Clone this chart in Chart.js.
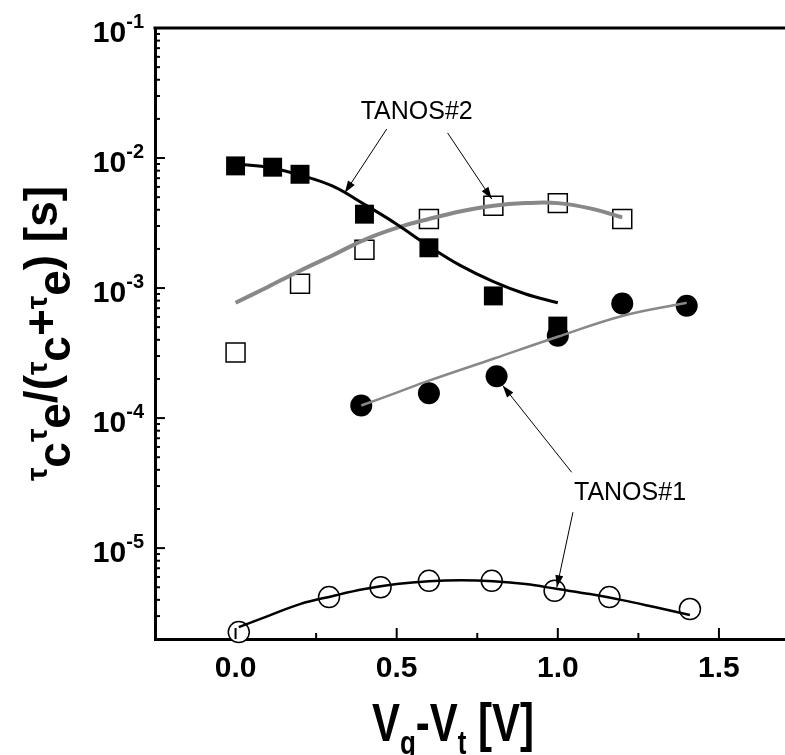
<!DOCTYPE html>
<html>
<head>
<meta charset="utf-8">
<script src="https://cdn.jsdelivr.net/npm/chart.js@4"></script>
<style>
  body { margin: 0; background: #fff; }
  canvas { display: block; }
</style>
</head>
<body>
<canvas id="chart" width="785" height="755"></canvas>
<script>
// measured points
const filledSqX = [0.0, 0.115, 0.20, 0.40, 0.60, 0.80, 1.00];
const filledSqY = [0.0087, 0.0085, 0.0075, 0.0037, 0.00204, 0.00087, 0.00051];
const openSqX = [0.0, 0.20, 0.40, 0.60, 0.80, 1.00, 1.20];
const openSqY = [0.00032, 0.00108, 0.00197, 0.0034, 0.0043, 0.0045, 0.0034];
const filledCircX = [0.39, 0.60, 0.81, 1.0, 1.2, 1.4];
const filledCircY = [1.25e-4, 1.55e-4, 2.1e-4, 4.3e-4, 7.6e-4, 7.3e-4];
const openCircX = [0.01, 0.29, 0.45, 0.60, 0.795, 0.99, 1.16, 1.41];
const openCircY = [2.26e-6, 4.2e-6, 5.0e-6, 5.6e-6, 5.6e-6, 4.7e-6, 4.2e-6, 3.4e-6];

// fit curves
const fitFilledSqX = [0.0, 0.1, 0.2, 0.3, 0.4, 0.5, 0.6, 0.7, 0.8, 0.9, 1.0];
const fitFilledSqY = [0.0090, 0.0085, 0.0074, 0.0061, 0.0044, 0.0031, 0.0021, 0.00148, 0.00112, 0.00090, 0.00077];
const fitOpenSqX = [0.0, 0.1, 0.2, 0.3, 0.4, 0.5, 0.6, 0.7, 0.8, 0.9, 1.0, 1.1, 1.2];
const fitOpenSqY = [0.00077, 0.00102, 0.00136, 0.00178, 0.00235, 0.0029, 0.0034, 0.0039, 0.0043, 0.0045, 0.0045, 0.0041, 0.0035];
const fitFilledCircX = [0.39, 0.5, 0.6, 0.8, 1.0, 1.2, 1.4];
const fitFilledCircY = [1.25e-4, 1.57e-4, 1.94e-4, 2.86e-4, 4.22e-4, 6.1e-4, 7.7e-4];
const fitOpenCircX = [0.01, 0.1, 0.2, 0.3, 0.4, 0.5, 0.6, 0.7, 0.8, 0.9, 1.0, 1.1, 1.2, 1.3, 1.41];
const fitOpenCircY = [2.47e-6, 3.0e-6, 3.71e-6, 4.27e-6, 4.84e-6, 5.29e-6, 5.57e-6, 5.67e-6, 5.57e-6, 5.29e-6, 4.84e-6, 4.43e-6, 3.98e-6, 3.52e-6, 3.06e-6];

// axes
const xMajorTicks = [0, 0.5, 1.0, 1.5];
const xMajorLabels = ['0.0', '0.5', '1.0', '1.5'];
const xMinorTicks = [-0.25, 0.25, 0.75, 1.25];
const yExponents = [-5, -4, -3, -2, -1];

// annotations (data coords)
const noteText = ['TANOS#2', 'TANOS#1'];
const noteX = [0.562, 1.224];
const noteY = [0.0199, 2.33e-5];
const arrowFrom = [[0.469, 0.0167], [0.658, 0.0156], [1.043, 3.83e-5], [1.047, 1.89e-5]];
const arrowTo = [[0.339, 0.0054], [0.795, 0.00484], [0.829, 1.78e-4], [0.997, 5.0e-6]];

const pts = (xs, ys) => xs.map((x, i) => ({ x: x, y: ys[i] }));
const FONT = '"Liberation Sans", Arial, sans-serif';

function richWidth(ctx, segs) {
  let w = 0;
  segs.forEach(s => { ctx.font = 'bold ' + s.size + 'px ' + FONT; w += ctx.measureText(s.t).width; });
  return w;
}
function drawRich(ctx, segs, x, y) {
  let cx = x;
  segs.forEach(s => {
    ctx.font = 'bold ' + s.size + 'px ' + FONT;
    ctx.fillText(s.t, cx, y + (s.dy || 0));
    cx += ctx.measureText(s.t).width;
  });
}

const axesPlugin = {
  id: 'axesPlugin',
  afterDraw(chart) {
    const ctx = chart.ctx;
    const xs = chart.scales.x, ys = chart.scales.y;
    const area = chart.chartArea;
    ctx.save();
    ctx.strokeStyle = '#000';
    ctx.fillStyle = '#000';

    // top frame line
    ctx.lineWidth = 3;
    ctx.beginPath();
    ctx.moveTo(area.left - 1.5, area.top);
    ctx.lineTo(area.right, area.top);
    ctx.stroke();

    // inner ticks
    ctx.lineWidth = 2;
    xMajorTicks.forEach(v => {
      const px = xs.getPixelForValue(v);
      ctx.beginPath(); ctx.moveTo(px, area.bottom); ctx.lineTo(px, area.bottom - 11); ctx.stroke();
    });
    xMinorTicks.forEach(v => {
      const px = xs.getPixelForValue(v);
      ctx.beginPath(); ctx.moveTo(px, area.bottom); ctx.lineTo(px, area.bottom - 6); ctx.stroke();
    });
    for (let d = -6; d <= -1; d++) {
      for (let m = 1; m <= 9; m++) {
        const v = m * Math.pow(10, d);
        if (v < ys.min * 0.999 || v > ys.max * 1.001) continue;
        const py = ys.getPixelForValue(v);
        ctx.beginPath(); ctx.moveTo(area.left, py); ctx.lineTo(area.left + (m === 1 ? 10 : 5), py); ctx.stroke();
      }
    }

    // tick labels
    ctx.textBaseline = 'alphabetic';
    ctx.textAlign = 'center';
    ctx.font = 'bold 30px ' + FONT;
    xMajorTicks.forEach((v, i) => {
      ctx.fillText(xMajorLabels[i], xs.getPixelForValue(v), area.bottom + 38);
    });
    ctx.textAlign = 'left';
    yExponents.forEach(e => {
      const py = ys.getPixelForValue(Math.pow(10, e));
      const segs = [{ t: '10', size: 30, dy: 14 }, { t: String(e), size: 20, dy: 0 }];
      const w = richWidth(ctx, segs);
      drawRich(ctx, segs, 144 - w, py);
    });

    // x title
    const xt = [
      { t: 'V', size: 42 }, { t: 'g', size: 26, dy: 10 },
      { t: '-V', size: 42 }, { t: 't', size: 26, dy: 10 },
      { t: ' [V]', size: 42 }
    ];
    const xw = richWidth(ctx, xt);
    ctx.save();
    ctx.translate(453, 741);
    ctx.scale(1, 1.27);
    drawRich(ctx, xt, -xw / 2, 0);
    ctx.restore();

    // y title
    const yt = [
      { t: 'τ', size: 30, dy: -10 }, { t: 'c', size: 46, dy: 13 },
      { t: 'τ', size: 30, dy: -10 }, { t: 'e', size: 46, dy: 13 },
      { t: '/(', size: 46 },
      { t: 'τ', size: 30, dy: -10 }, { t: 'c', size: 46, dy: 13 },
      { t: '+', size: 46 },
      { t: 'τ', size: 30, dy: -10 }, { t: 'e', size: 46, dy: 13 },
      { t: ') [s]', size: 46 }
    ];
    const yw = richWidth(ctx, yt);
    ctx.save();
    ctx.translate(57, (area.top + area.bottom) / 2);
    ctx.rotate(-Math.PI / 2);
    drawRich(ctx, yt, -yw / 2, 0);
    ctx.restore();

    // annotations
    ctx.font = '25px ' + FONT;
    ctx.textAlign = 'center';
    noteText.forEach((t, i) => {
      ctx.fillText(t, xs.getPixelForValue(noteX[i]), ys.getPixelForValue(noteY[i]));
    });
    ctx.lineWidth = 1;
    arrowFrom.forEach((f, i) => {
      const x0 = xs.getPixelForValue(f[0]), y0 = ys.getPixelForValue(f[1]);
      const x1 = xs.getPixelForValue(arrowTo[i][0]), y1 = ys.getPixelForValue(arrowTo[i][1]);
      const ang = Math.atan2(y1 - y0, x1 - x0);
      ctx.beginPath(); ctx.moveTo(x0, y0); ctx.lineTo(x1, y1); ctx.stroke();
      ctx.beginPath();
      ctx.moveTo(x1, y1);
      ctx.lineTo(x1 - 12 * Math.cos(ang) + 4 * Math.sin(ang), y1 - 12 * Math.sin(ang) - 4 * Math.cos(ang));
      ctx.lineTo(x1 - 12 * Math.cos(ang) - 4 * Math.sin(ang), y1 - 12 * Math.sin(ang) + 4 * Math.cos(ang));
      ctx.closePath();
      ctx.fill();
    });
    ctx.restore();
  }
};

const fitLine = (xs, ys, color, width) => ({
  data: pts(xs, ys),
  showLine: true,
  borderColor: color,
  borderWidth: width,
  pointRadius: 0,
  tension: 0.4,
  fill: false,
  clip: false
});
const markers = (xs, ys, style, r, bg, bw) => ({
  data: pts(xs, ys),
  showLine: false,
  pointStyle: style,
  pointRadius: r,
  pointBackgroundColor: bg,
  pointBorderColor: '#000',
  pointBorderWidth: bw,
  clip: false
});

const ctx = document.getElementById('chart').getContext('2d');
const chart = new Chart(ctx, {
  type: 'scatter',
  data: {
    datasets: [
      fitLine(fitFilledSqX, fitFilledSqY, '#000', 3),
      fitLine(fitOpenSqX, fitOpenSqY, '#888', 4),
      fitLine(fitFilledCircX, fitFilledCircY, '#888', 2.5),
      fitLine(fitOpenCircX, fitOpenCircY, '#000', 2.5),
      markers(filledCircX, filledCircY, 'circle', 11, '#000', 0),
      markers(filledSqX, filledSqY, 'rect', 13.4, '#000', 0),
      markers(openSqX, openSqY, 'rect', 13.4, '#fff', 1.5),
      markers(openCircX, openCircY, 'circle', 10.5, '#fff', 1.5)
    ]
  },
  options: {
    responsive: false,
    animation: false,
    devicePixelRatio: 1,
    layout: { autoPadding: false, padding: { left: 155, top: 28, right: 0, bottom: 116 } },
    plugins: { legend: { display: false }, tooltip: { enabled: false } },
    scales: {
      x: {
        type: 'linear', min: -0.25, max: 1.705,
        ticks: { display: false },
        grid: { display: false, drawTicks: false },
        border: { display: true, color: '#000', width: 3 }
      },
      y: {
        type: 'logarithmic', min: 2e-6, max: 0.1,
        ticks: { display: false },
        grid: { display: false, drawTicks: false },
        border: { display: true, color: '#000', width: 3 }
      }
    }
  },
  plugins: [axesPlugin]
});
</script>
</body>
</html>
